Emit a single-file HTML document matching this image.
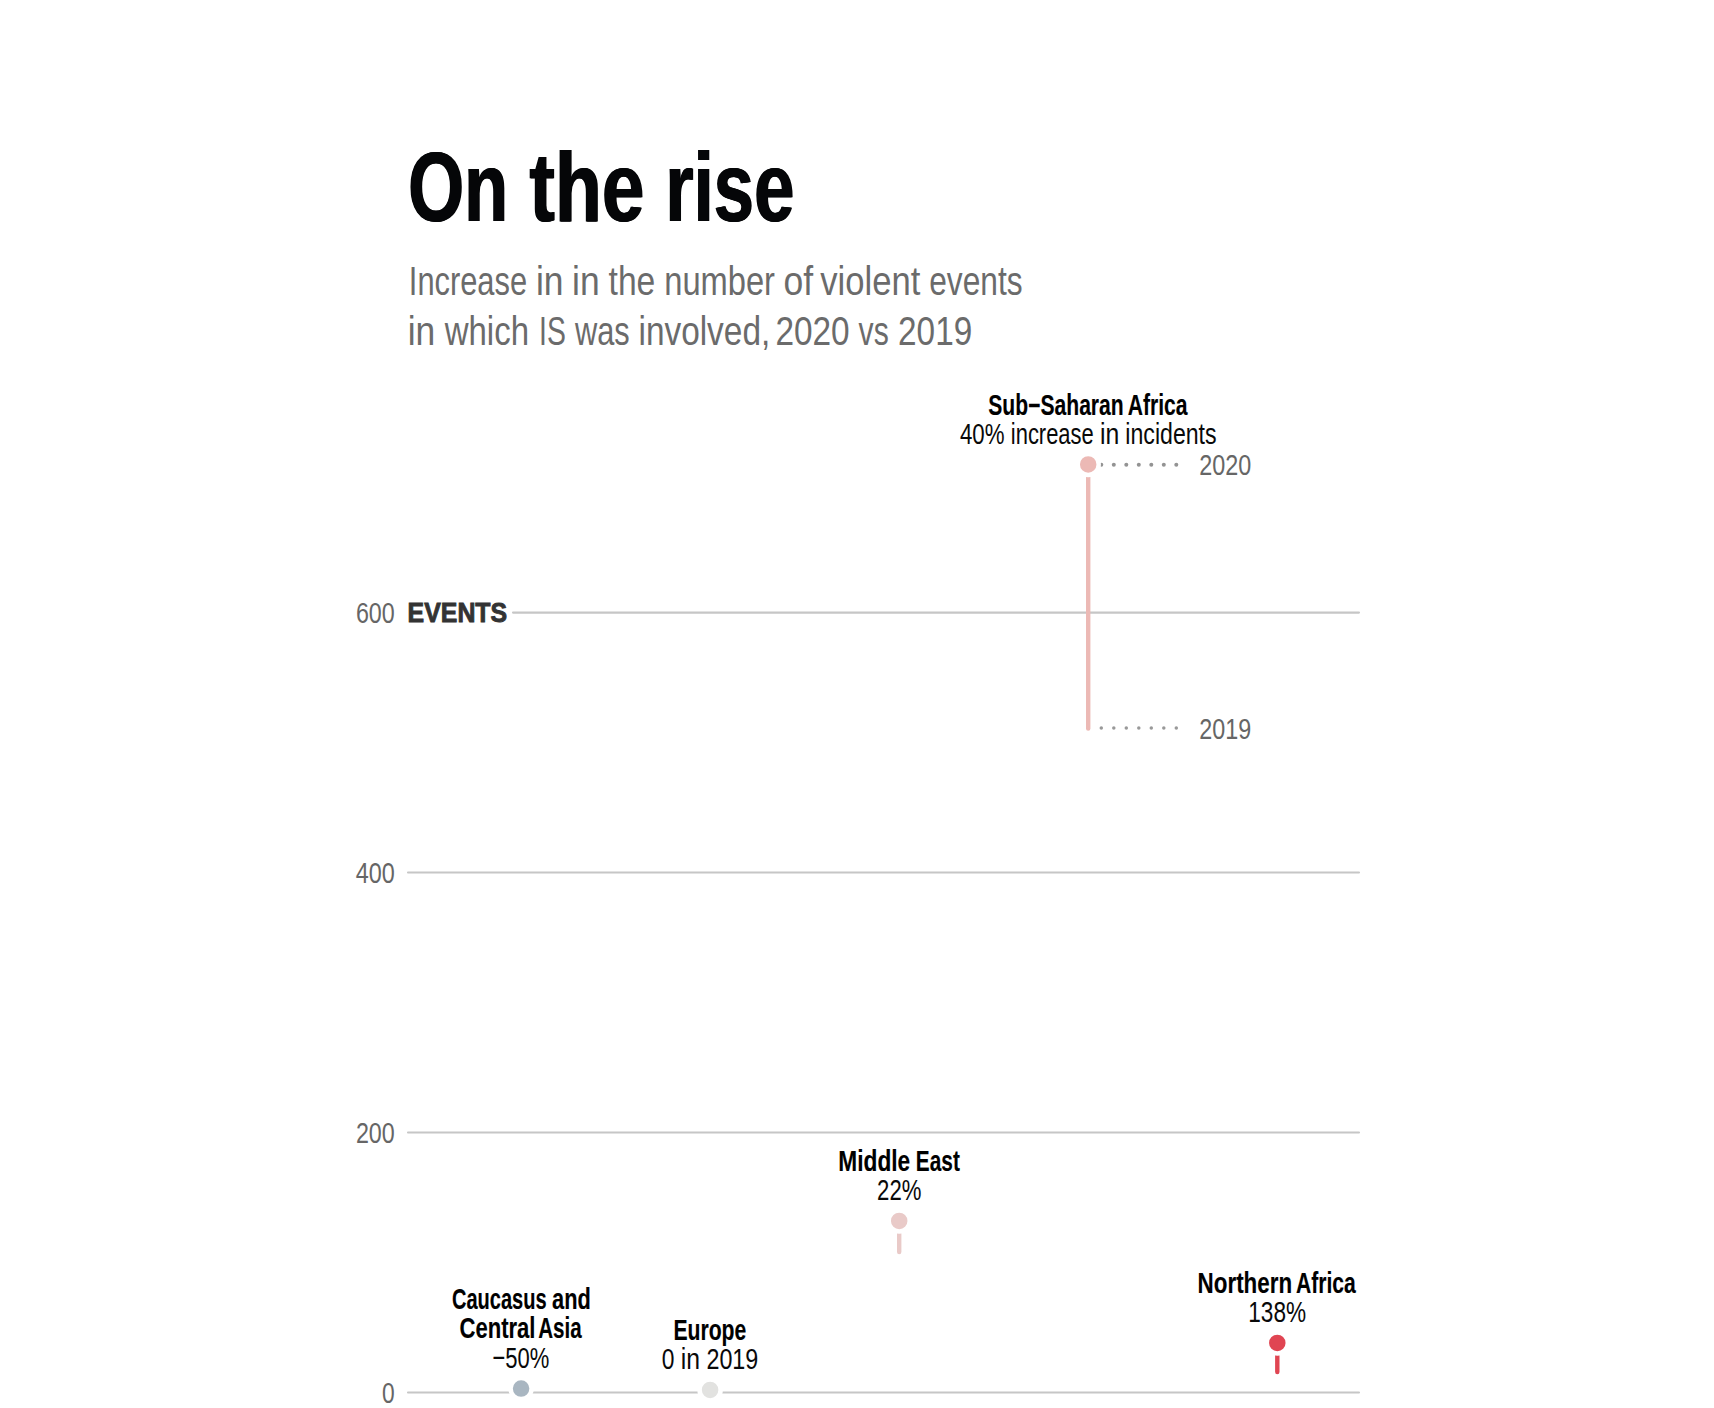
<!DOCTYPE html>
<html lang="en"><head><meta charset="utf-8"><title>On the rise</title>
<style>
html,body{margin:0;padding:0;background:#fff}
body{width:1714px;height:1408px;overflow:hidden}
svg{display:block}
text{font-family:"Liberation Sans",sans-serif;white-space:pre}
.b{font-weight:bold}
.title{fill:#050608;text-shadow:.75px 0 0 #050608,-.75px 0 0 #050608}
.sub{fill:#6b6b6b}
.tick{fill:#666}
.lab{fill:#090909}
.lab.b{fill:#000;stroke:#000;stroke-width:.14px}
.ev{fill:#333;stroke:#333;stroke-width:.9px;font-weight:bold}
</style></head><body>
<svg width="1714" height="1408" viewBox="0 0 1714 1408">
<rect width="1714" height="1408" fill="#fff"/>
<g stroke="#c6c6c6" stroke-width="2.08" stroke-linecap="round">
<line x1="513" x2="1359" y1="612.6" y2="612.6"/>
<line x1="408" x2="1359" y1="872.55" y2="872.55"/>
<line x1="408" x2="1359" y1="1132.5" y2="1132.5"/>
<line x1="408" x2="1359" y1="1392.5" y2="1392.5"/>
</g>
<g fill="#939393"><circle cx="1176.3" cy="464.7" r="2.0"/><circle cx="1163.8" cy="464.7" r="2.0"/><circle cx="1151.3" cy="464.7" r="2.0"/><circle cx="1138.8" cy="464.7" r="2.0"/><circle cx="1126.3" cy="464.7" r="2.0"/><circle cx="1113.8" cy="464.7" r="2.0"/><circle cx="1101.3" cy="464.7" r="2.0"/></g>
<g fill="#999"><circle cx="1176.3" cy="728" r="1.75"/><circle cx="1163.8" cy="728" r="1.75"/><circle cx="1151.3" cy="728" r="1.75"/><circle cx="1138.8" cy="728" r="1.75"/><circle cx="1126.3" cy="728" r="1.75"/><circle cx="1113.8" cy="728" r="1.75"/><circle cx="1101.3" cy="728" r="1.75"/></g>
<line x1="521.1" x2="521.1" y1="1388.6" y2="1384.7" stroke="#a9b6c1" stroke-width="4.4" stroke-linecap="round"/>
<circle cx="521.1" cy="1388.6" r="10.5" fill="#a9b6c1" stroke="#fff" stroke-width="4.5"/>
<line x1="710.1" x2="710.1" y1="1389.9" y2="1392.3" stroke="#e2e2e0" stroke-width="4.4" stroke-linecap="round"/>
<circle cx="710.1" cy="1389.9" r="10.5" fill="#e2e2e0" stroke="#fff" stroke-width="4.5"/>
<line x1="899.2" x2="899.2" y1="1220.9" y2="1252" stroke="#e9cac8" stroke-width="4.4" stroke-linecap="round"/>
<circle cx="899.2" cy="1220.9" r="10.5" fill="#e9cac8" stroke="#fff" stroke-width="4.5"/>
<line x1="1088.2" x2="1088.2" y1="464.4" y2="728.5" stroke="#ecb9b5" stroke-width="4.4" stroke-linecap="round"/>
<circle cx="1088.2" cy="464.4" r="10.5" fill="#ecb9b5" stroke="#fff" stroke-width="4.5"/>
<line x1="1277.3" x2="1277.3" y1="1342.9" y2="1372" stroke="#e04552" stroke-width="4.4" stroke-linecap="round"/>
<circle cx="1277.3" cy="1342.9" r="10.5" fill="#e04552" stroke="#fff" stroke-width="4.5"/>
<g class="title b" font-size="98">
<text transform="translate(408.06,220.7) scale(0.7360,1)">On</text>
<text transform="translate(529.44,220.7) scale(0.7825,1)">the</text>
<text transform="translate(665.32,220.7) scale(0.7406,1)">rise</text>
</g>
<g class="sub" font-size="40.84">
<text transform="translate(408.85,294.8) scale(0.7549,1)">Increase</text>
<text transform="translate(535.94,294.8) scale(0.8674,1)">in</text>
<text transform="translate(572.11,294.8) scale(0.8674,1)">in</text>
<text transform="translate(608.53,294.8) scale(0.8241,1)">the</text>
<text transform="translate(664.26,294.8) scale(0.8000,1)">number</text>
<text transform="translate(783.55,294.8) scale(0.8704,1)">of</text>
<text transform="translate(820.27,294.8) scale(0.8474,1)">violent</text>
<text transform="translate(929.25,294.8) scale(0.7757,1)">events</text>
</g>
<g class="sub" font-size="40.84">
<text transform="translate(407.74,344.8) scale(0.8674,1)">in</text>
<text transform="translate(444.67,344.8) scale(0.8085,1)">which</text>
<text transform="translate(539.12,344.8) scale(0.6943,1)">IS</text>
<text transform="translate(574.93,344.8) scale(0.7540,1)">was</text>
<text transform="translate(638.46,344.8) scale(0.8176,1)">involved,</text>
<text transform="translate(775.42,344.8) scale(0.8176,1)">2020</text>
<text transform="translate(858.62,344.8) scale(0.7379,1)">vs</text>
<text transform="translate(898.09,344.8) scale(0.8161,1)">2019</text>
</g>
<g class="tick" font-size="30.34">
<text transform="translate(355.9,623) scale(0.7678,1)">600</text>
</g>
<g class="tick" font-size="30.34">
<text transform="translate(355.72,883) scale(0.7715,1)">400</text>
</g>
<g class="tick" font-size="30.34">
<text transform="translate(355.9,1143) scale(0.7678,1)">200</text>
</g>
<g class="tick" font-size="30.34">
<text transform="translate(382.07,1403) scale(0.7512,1)">0</text>
</g>
<g class="tick" font-size="30.34">
<text transform="translate(1199.27,474.7) scale(0.7705,1)">2020</text>
</g>
<g class="tick" font-size="30.34">
<text transform="translate(1199.27,738.8) scale(0.7691,1)">2019</text>
</g>
<g class="lab b" font-size="28.59">
<text transform="translate(451.98,1308.9) scale(0.7007,1)">Caucasus</text>
<text transform="translate(552.04,1308.9) scale(0.7620,1)">and</text>
</g>
<g class="lab b" font-size="28.59">
<text transform="translate(459.56,1337.7) scale(0.7714,1)">Central</text>
<text transform="translate(538.19,1337.7) scale(0.7192,1)">Asia</text>
</g>
<g class="lab" font-size="30.34">
<text transform="translate(492.52,1367.7) scale(0.7256,1)">−50%</text>
</g>
<g class="lab b" font-size="28.59">
<text transform="translate(673.4,1340) scale(0.7404,1)">Europe</text>
</g>
<g class="lab" font-size="30.34">
<text transform="translate(661.75,1368.9) scale(0.7512,1)">0</text>
<text transform="translate(680.67,1368.9) scale(0.8174,1)">in</text>
<text transform="translate(706.42,1368.9) scale(0.7691,1)">2019</text>
</g>
<g class="lab b" font-size="28.59">
<text transform="translate(838.35,1170.8) scale(0.7944,1)">Middle</text>
<text transform="translate(915.87,1170.8) scale(0.7278,1)">East</text>
</g>
<g class="lab" font-size="30.34">
<text transform="translate(877.11,1199.8) scale(0.7306,1)">22%</text>
</g>
<g class="lab b" font-size="28.59">
<text transform="translate(988.3,414.5) scale(0.7383,1)">Sub−Saharan</text>
<text transform="translate(1127.69,414.5) scale(0.7376,1)">Africa</text>
</g>
<g class="lab" font-size="28.59">
<text transform="translate(959.93,443.8) scale(0.7792,1)">40%</text>
<text transform="translate(1010.81,443.8) scale(0.7674,1)">increase</text>
<text transform="translate(1099.91,443.8) scale(0.8674,1)">in</text>
<text transform="translate(1125.33,443.8) scale(0.8090,1)">incidents</text>
</g>
<g class="lab b" font-size="28.59">
<text transform="translate(1197.61,1292.8) scale(0.7830,1)">Northern</text>
<text transform="translate(1295.97,1292.8) scale(0.7376,1)">Africa</text>
</g>
<g class="lab" font-size="30.34">
<text transform="translate(1248.28,1322) scale(0.7459,1)">138%</text>
</g>
<text class="ev" font-size="28" transform="translate(407.6,622) scale(0.889,1)">EVENTS</text>
</svg></body></html>
